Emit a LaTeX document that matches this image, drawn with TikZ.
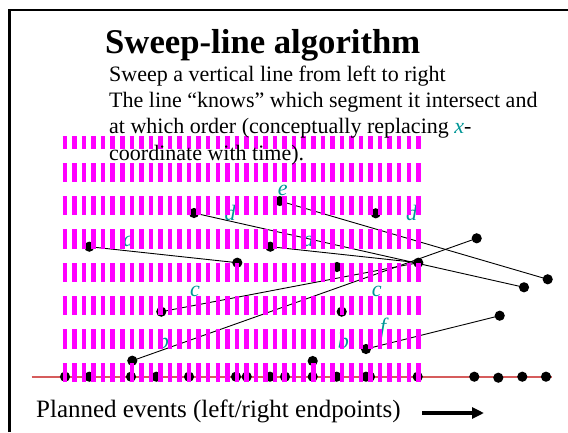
\documentclass[tikz,border=0pt]{standalone}
\usepackage{fontspec}
\setmainfont{Liberation Serif}
\usetikzlibrary{arrows.meta}
\definecolor{sweep}{RGB}{255,0,255}
\definecolor{segname}{RGB}{0,150,150}
\definecolor{axisred}{RGB}{214,92,92}
\begin{document}
\begin{tikzpicture}[x=1pt,y=-1pt,
  ev/.style={circle,fill=black,inner sep=0pt,minimum size=10.2pt},
  seg/.style={black,line width=0.9pt},
  lbl/.style={text=segname,font=\fontsize{22}{22}\selectfont\itshape,inner sep=0pt},
  body/.style={anchor=base west,inner sep=0pt,font=\fontsize{22}{26}\selectfont},
  band/.style={sweep,dash pattern=on 4.5pt off 5.05pt}]
\useasboundingbox (0,0) rectangle (568,432);

% slide frame
\draw[line width=2.2pt] (9.5,432) -- (9.5,10) -- (568,10);

% time axis
\coordinate (axL) at (31.7,377);
\coordinate (axR) at (552,377);
\draw[axisred,line width=1.3pt] (axL) -- (axR);

% segment endpoints
\node[ev] (eL)  at (279.8,201) {};
\node[ev] (dL)  at (194,213) {};
\node[ev] (dL2) at (375.7,213.3) {};
\node[ev] (aL)  at (89.3,246.7) {};
\node[ev] (aL2) at (270.3,246.7) {};
\node[ev] (bR)  at (476.7,238.3) {};
\node[ev] (aR)  at (237.3,262.7) {};
\node[ev] (aR2) at (418.3,262.7) {};
\node[ev] (mid) at (337,267) {};
\node[ev] (eR)  at (547.7,279.3) {};
\node[ev] (dR)  at (524,287.3) {};
\node[ev] (cL)  at (161.3,311.7) {};
\node[ev] (cL2) at (341.7,311.7) {};
\node[ev] (fR)  at (499.7,315.7) {};
\node[ev] (fL)  at (366,349) {};
\node[ev] (bL)  at (132.3,360.7) {};
\node[ev] (bL2) at (312.7,361) {};

% segments
\draw[seg] (aL.center) -- (aR.center);
\draw[seg] (aL2.center) -- (aR2.center);
\draw[seg] (dL.center) -- (dR.center);
\draw[seg] (eL.center) -- (eR.center);
\draw[seg] (bL.center) -- (bR.center);
\draw[seg] (cL.center) -- (aR2.center);
\draw[seg] (fL.center) -- (fR.center);

% events projected on the axis
\foreach \x [count=\i] in {65,89.3,131,156.3,189,236,246.7,270,285,312.7,336.7,366,370,417.7,474.3,522.3,546}
  \node[ev] (q\i) at (\x,376.7) {};
\node[ev] (q18) at (498.3,377.7) {};

% segment names
\node[lbl] (ne)  at (282.7,190) {e};
\node[lbl] (nd)  at (230,213) {d};
\node[lbl] (nd2) at (411.7,213) {d};
\node[lbl] (na)  at (128.5,241.5) {a};
\node[lbl] (na2) at (308.3,241.5) {a};
\node[lbl] (nc)  at (195,291) {c};
\node[lbl] (nc2) at (376.7,291) {c};
\node[lbl] (nb)  at (163.3,340.5) {b};
\node[lbl] (nb2) at (343.3,340.5) {b};
\node[lbl] (nf)  at (383.3,328.3) {f};

% successive positions of the sweep line
\draw[band,line width=12.7pt] (62.7,142.35) -- (420.5,142.35);
\foreach \m in {172.45,205.75,239.05,272.35,305.65,338.95,372.25}
  \draw[band,line width=19.2pt] (62.7,\m) -- (420.5,\m);

% heading and explanation
\node[anchor=base west,inner sep=0pt,font=\fontsize{34.7}{40}\selectfont\bfseries] (title) at (105,53) {Sweep-line algorithm};
\node[body] (l1) at (109,81) {Sweep a vertical line from left to right};
\node[body] (l2) at (109,107.2) {The line “knows” which segment it intersect and};
\node[body] (l3) at (109,133.5) {at which order (conceptually replacing \textcolor{segname}{\textit{x}}-};
\node[body] (l4) at (109,160) {coordinate with time).};

% legend
\node[anchor=base west,inner sep=0pt,font=\fontsize{25}{25}\selectfont] (plan) at (36,417) {Planned events (left/right endpoints)};
\coordinate (arrA) at (422,413);
\coordinate (arrB) at (484,413);
\draw[line width=4pt,-{Triangle[length=12pt,width=11pt]}] (arrA) -- (arrB);
\end{tikzpicture}
\end{document}
